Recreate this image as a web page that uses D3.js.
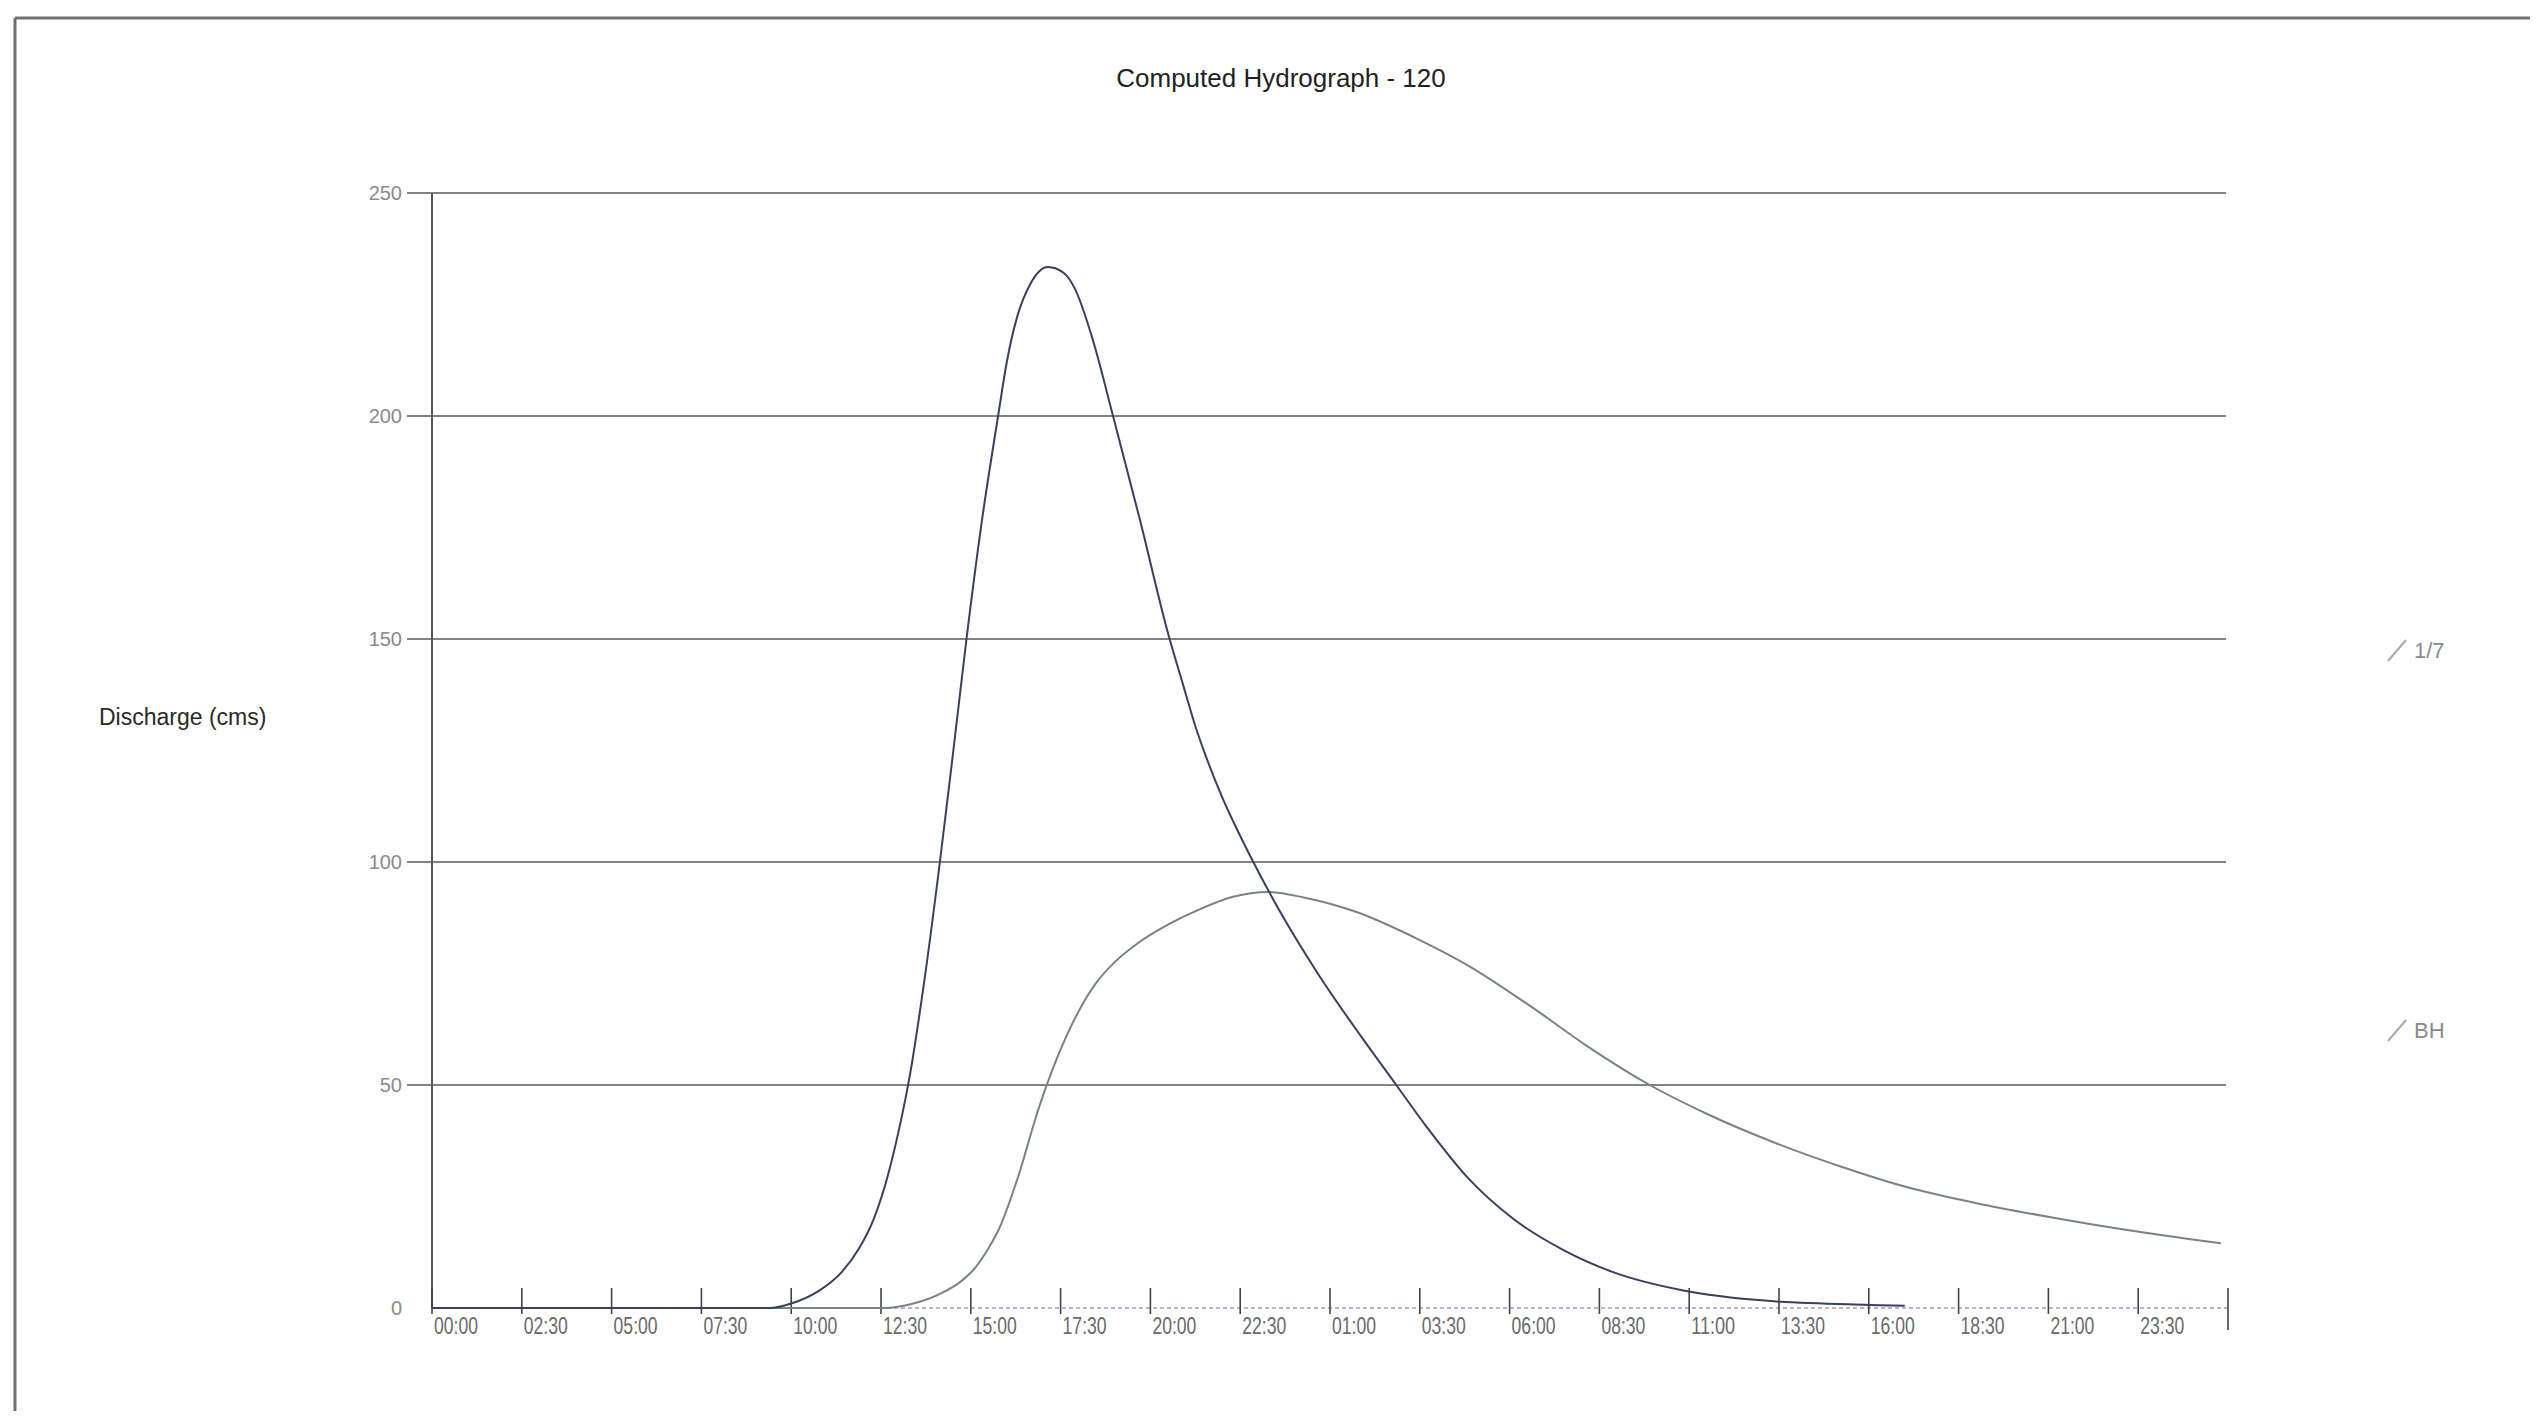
<!DOCTYPE html>
<html>
<head>
<meta charset="utf-8">
<title>Computed Hydrograph - 120</title>
<script src="https://cdn.jsdelivr.net/npm/d3@7"></script>
<style>
  html, body { margin: 0; padding: 0; background: #ffffff; }
  svg { display: block; font-family: "Liberation Sans", Arial, sans-serif; }
</style>
</head>
<body>
<svg id="chart" width="2543" height="1427"></svg>
<script>
// Hydrograph series: elapsed hours and discharge (cms)
const hours17 = [0, 9.4, 10.0, 10.8, 11.4, 11.9, 12.3, 12.7, 13.0, 13.3, 13.7, 14.14, 14.5, 14.88, 15.3, 15.76, 16.0, 16.3, 16.65, 17.15, 17.6, 17.9, 18.4, 18.96, 19.7, 20.5, 20.9, 21.25, 21.6, 22.0, 22.4, 22.8, 23.6, 24.7, 25.9, 26.8, 27.7, 28.8, 30.1, 31.5, 32.9, 34.8, 37.2, 40.0, 41.0];
const flow17  = [0, 0, 1, 4, 8, 13.5, 20, 30, 40, 52, 73, 100, 124, 150, 176, 200, 212, 222.5, 229.5, 233.4, 232, 228.5, 217, 200, 177, 151, 140, 130.5, 122.5, 114.5, 107.5, 101, 89, 74.5, 60.5, 50.5, 40.5, 29.5, 20, 13, 8, 4, 1.6, 0.7, 0.5];

const hoursBH = [0, 12.6, 13.4, 14.2, 14.7, 15.1, 15.5, 15.8, 16.3, 16.9, 17.4, 18.0, 18.5, 19.0, 19.6, 20.5, 21.4, 22.3, 23.25, 24.3, 25.7, 27.5, 28.8, 30.7, 32.2, 33.9, 35.5, 37.4, 39.3, 41.1, 43.0, 45.1, 47.1, 49.8];
const flowBH  = [0, 0, 1, 3.4, 5.8, 8.8, 13.5, 18, 29, 45, 56, 66.5, 73, 77.5, 81.5, 86, 89.5, 92.2, 93.3, 92, 88.9, 82.5, 77, 67, 58.5, 50, 43.5, 37, 31.5, 27, 23.5, 20.3, 17.6, 14.5];

const seriesNames = ["1/7", "BH"];

// Axis ticks
const xTickHours  = [0, 2.5, 5, 7.5, 10, 12.5, 15, 17.5, 20, 22.5, 25, 27.5, 30, 32.5, 35, 37.5, 40, 42.5, 45, 47.5, 50];
const xTickLabels = ["00:00", "02:30", "05:00", "07:30", "10:00", "12:30", "15:00", "17:30", "20:00", "22:30",
                     "01:00", "03:30", "06:00", "08:30", "11:00", "13:30", "16:00", "18:30", "21:00", "23:30", ""];
const yTickValues = [0, 50, 100, 150, 200, 250];

const titleText = "Computed Hydrograph - 120";
const yAxisTitle = "Discharge (cms)";

// ---- layout ----
const svg = d3.select("#chart");
const plot = { left: 432, right: 2228, top: 193, bottom: 1308 };

const x = d3.scaleLinear().domain([0, 50]).range([plot.left, plot.right]);
const y = d3.scaleLinear().domain([0, 250]).range([plot.bottom, plot.top]);

// outer frame (top and left edges)
svg.append("line").attr("x1", 15).attr("y1", 18).attr("x2", 2530).attr("y2", 18)
  .attr("stroke", "#707070").attr("stroke-width", 3);
svg.append("line").attr("x1", 15).attr("y1", 18).attr("x2", 15).attr("y2", 1411)
  .attr("stroke", "#707070").attr("stroke-width", 3);

// title
svg.append("text").attr("x", 1281).attr("y", 87).attr("text-anchor", "middle")
  .attr("font-size", 26).attr("fill", "#222").text(titleText);

// y axis title
svg.append("text").attr("x", 99).attr("y", 725)
  .attr("font-size", 23).attr("fill", "#2a2a2a").text(yAxisTitle);

// y tick labels
const yAxis = d3.axisLeft(y).tickValues(yTickValues).tickSize(0).tickFormat(d3.format("d")).tickPadding(30);
const gY = svg.append("g").attr("transform", `translate(${plot.left},0)`).call(yAxis);
gY.select(".domain").remove();
gY.selectAll("text").attr("font-size", 20).attr("fill", "#8a8a8a")
  .attr("font-family", "Liberation Sans, Arial, sans-serif");

// horizontal gridlines with short outside ticks
svg.append("g").selectAll("line")
  .data(yTickValues.filter(v => v > 0))
  .join("line")
  .attr("x1", plot.left - 25).attr("x2", plot.right - 2)
  .attr("y1", d => y(d)).attr("y2", d => y(d))
  .attr("stroke", "#5a5a5a").attr("stroke-width", 1.6);

// left axis line
svg.append("line").attr("x1", plot.left).attr("x2", plot.left)
  .attr("y1", y(250)).attr("y2", y(0))
  .attr("stroke", "#555").attr("stroke-width", 2);

// baseline (lighter dotted tail after the flow has receded)
svg.append("line").attr("x1", plot.left).attr("x2", plot.right)
  .attr("y1", y(0)).attr("y2", y(0))
  .attr("stroke", "#b4b4dc").attr("stroke-width", 2).attr("stroke-dasharray", "4,3");

// x ticks and labels
const gX = svg.append("g");
gX.selectAll("line.tick")
  .data(xTickHours)
  .join("line")
  .attr("class", "tick")
  .attr("x1", d => x(d)).attr("x2", d => x(d))
  .attr("y1", y(0) - 20)
  .attr("y2", (d, i) => i === xTickHours.length - 1 ? y(0) + 22 : y(0) + 6)
  .attr("stroke", "#444").attr("stroke-width", 1.6);

gX.selectAll("text.tl")
  .data(xTickHours.map((h, i) => ({ h, label: xTickLabels[i] })).filter(d => d.label))
  .join("text")
  .attr("class", "tl")
  .attr("x", d => x(d.h) + 2).attr("y", y(0) + 26)
  .attr("font-size", 24)
  .attr("textLength", 44).attr("lengthAdjust", "spacingAndGlyphs")
  .attr("fill", "#6a6a6a")
  .text(d => d.label);

// hydrograph lines
const line = d3.line().x(d => x(d[0])).y(d => y(d[1])).curve(d3.curveMonotoneX);

const dataBH = hoursBH.map((h, i) => [h, flowBH[i]]);
const data17 = hours17.map((h, i) => [h, flow17[i]]);

svg.append("path").datum(dataBH).attr("d", line)
  .attr("fill", "none").attr("stroke", "#7b8282").attr("stroke-width", 2);

svg.append("path").datum(data17).attr("d", line)
  .attr("fill", "none").attr("stroke", "#36415f").attr("stroke-width", 2);

// legend
const legendRows = [
  { name: seriesNames[0], yPos: 650, color: "#a4a8b4" },
  { name: seriesNames[1], yPos: 1030, color: "#a8acac" }
];
const lg = svg.append("g").selectAll("g").data(legendRows).join("g")
  .attr("transform", d => `translate(2386,${d.yPos})`);
lg.append("line").attr("x1", 2).attr("y1", 11).attr("x2", 20).attr("y2", -10)
  .attr("stroke", d => d.color).attr("stroke-width", 2);
lg.append("text").attr("x", 28).attr("y", 8)
  .attr("font-size", 22).attr("fill", "#8a8a8a")
  .text(d => d.name);
</script>
</body>
</html>
